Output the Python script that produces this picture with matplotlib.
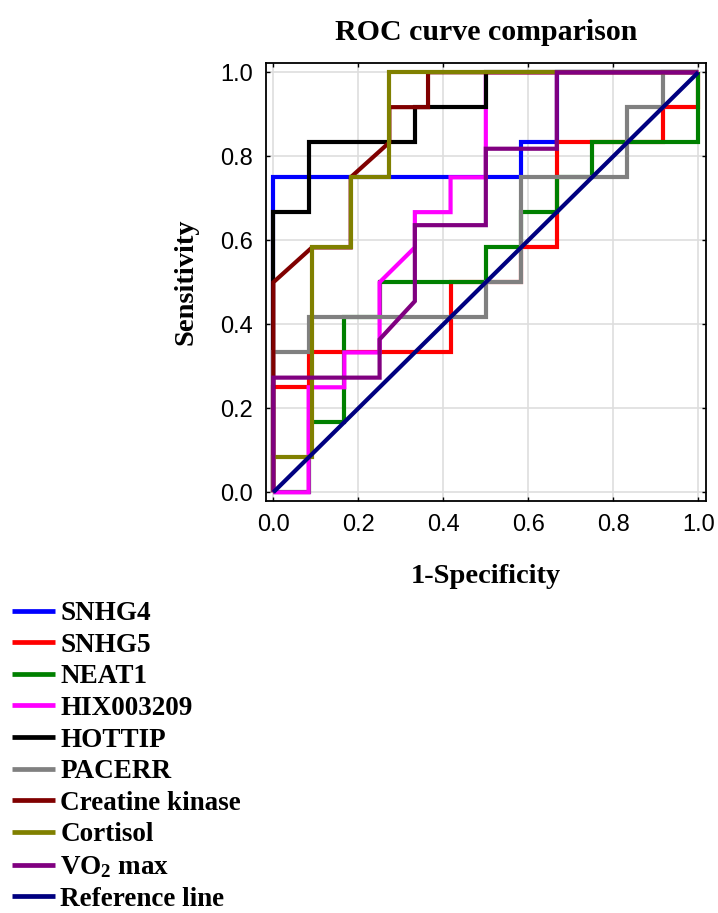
import matplotlib
matplotlib.use("Agg")
import matplotlib.pyplot as plt

# ---- data ----
series_names = ["SNHG4", "SNHG5", "NEAT1", "HIX003209", "HOTTIP", "PACERR",
                "Creatine kinase", "Cortisol", "VO$_2$ max", "Reference line"]
series_colors = ["#0000ff", "#ff0000", "#008000", "#ff00ff", "#000000",
                 "#808080", "#800000", "#808000", "#800080", "#000080"]

snhg4_fpr = [0, 0, 0.583, 0.583, 0.667, 0.667, 1]
snhg4_tpr = [0, 0.75, 0.75, 0.833, 0.833, 1, 1]

snhg5_fpr = [0, 0, 0.083, 0.083, 0.417, 0.417, 0.583, 0.583, 0.667, 0.667, 0.917, 0.917, 1, 1]
snhg5_tpr = [0, 0.25, 0.25, 0.333, 0.333, 0.5, 0.5, 0.583, 0.583, 0.833, 0.833, 0.917, 0.917, 1]

neat1_fpr = [0, 0.083, 0.083, 0.167, 0.167, 0.25, 0.25, 0.5, 0.5, 0.583, 0.583, 0.667, 0.667, 0.75, 0.75, 1, 1]
neat1_tpr = [0, 0, 0.167, 0.167, 0.417, 0.417, 0.5, 0.5, 0.583, 0.583, 0.667, 0.667, 0.75, 0.75, 0.833, 0.833, 1]

hix_fpr = [0, 0.083, 0.083, 0.167, 0.167, 0.25, 0.25, 0.333, 0.333, 0.417, 0.417, 0.5, 0.5, 1]
hix_tpr = [0, 0, 0.25, 0.25, 0.333, 0.333, 0.5, 0.583, 0.667, 0.667, 0.75, 0.75, 1, 1]

hottip_fpr = [0, 0, 0.083, 0.083, 0.333, 0.333, 0.5, 0.5, 1]
hottip_tpr = [0, 0.667, 0.667, 0.833, 0.833, 0.917, 0.917, 1, 1]

pacerr_fpr = [0, 0, 0.083, 0.083, 0.5, 0.5, 0.583, 0.583, 0.833, 0.833, 0.917, 0.917, 1]
pacerr_tpr = [0, 0.333, 0.333, 0.417, 0.417, 0.5, 0.5, 0.75, 0.75, 0.917, 0.917, 1, 1]

ck_fpr = [0, 0, 0.091, 0.182, 0.182, 0.273, 0.273, 0.364, 0.364, 1]
ck_tpr = [0, 0.5, 0.583, 0.583, 0.75, 0.833, 0.917, 0.917, 1, 1]

cortisol_fpr = [0, 0, 0.091, 0.091, 0.182, 0.182, 0.273, 0.273, 1]
cortisol_tpr = [0, 0.083, 0.083, 0.583, 0.583, 0.75, 0.75, 1, 1]

vo2_fpr = [0, 0, 0.25, 0.25, 0.333, 0.333, 0.5, 0.5, 0.667, 0.667, 1]
vo2_tpr = [0, 0.273, 0.273, 0.364, 0.455, 0.636, 0.636, 0.818, 0.818, 1, 1]

ref_fpr = [0, 1]
ref_tpr = [0, 1]

ticks = [0.0, 0.2, 0.4, 0.6, 0.8, 1.0]
tick_labels = ["0.0", "0.2", "0.4", "0.6", "0.8", "1.0"]

curves = [(snhg4_fpr, snhg4_tpr), (snhg5_fpr, snhg5_tpr), (neat1_fpr, neat1_tpr),
          (hix_fpr, hix_tpr), (hottip_fpr, hottip_tpr), (pacerr_fpr, pacerr_tpr),
          (ck_fpr, ck_tpr), (cortisol_fpr, cortisol_tpr), (vo2_fpr, vo2_tpr),
          (ref_fpr, ref_tpr)]

# ---- styling ----
plt.rcParams["mathtext.fontset"] = "custom"
plt.rcParams["mathtext.rm"] = "Liberation Serif:bold"
plt.rcParams["mathtext.it"] = "Liberation Serif:bold"
plt.rcParams["mathtext.bf"] = "Liberation Serif:bold"

W, H = 718, 913
fig = plt.figure(figsize=(W / 100, H / 100), dpi=100)
ax = fig.add_axes([265.7 / W, 1 - 500.7 / H, (705.7 - 265.7) / W, (500.7 - 63.3) / H])

handles = []
for (fx, ty), name, col in zip(curves, series_names, series_colors):
    h, = ax.plot(fx, ty, color=col, lw=3.0, label=name, solid_joinstyle="miter",
                 solid_capstyle="butt")
    handles.append(h)

ax.set_xlim(-0.018, 1.0174)
ax.set_ylim(-0.02, 1.0214)
ax.set_xticks(ticks)
ax.set_yticks(ticks)
ax.set_xticklabels(tick_labels, fontfamily="Liberation Sans", fontsize=17)
ax.set_yticklabels(tick_labels, fontfamily="Liberation Sans", fontsize=17)
ax.tick_params(direction="in", length=3, width=1, top=True, right=True, pad=9.5)
ax.grid(True, color="#dedede", lw=1.2)
ax.set_axisbelow(True)
for s in ax.spines.values():
    s.set_linewidth(1.3)

serif = "Liberation Serif"
ax.set_title("ROC curve comparison", fontfamily=serif, fontweight="bold", fontsize=21.5, pad=17)
ax.set_xlabel("1-Specificity", fontfamily=serif, fontweight="bold", fontsize=20.5, labelpad=20)
ax.set_ylabel("Sensitivity", fontfamily=serif, fontweight="bold", fontsize=20.5, labelpad=15)

leg = fig.legend(handles, series_names, loc="upper left",
                 bbox_to_anchor=(12 / W, 1 - 601 / H),
                 frameon=False, borderpad=0, borderaxespad=0,
                 handlelength=1.59, handletextpad=0.19, labelspacing=0.245,
                 prop={"family": serif, "weight": "bold", "size": 19.5})
for l in leg.get_lines():
    l.set_linewidth(3.4)

fig.savefig("out.png", dpi=100)
